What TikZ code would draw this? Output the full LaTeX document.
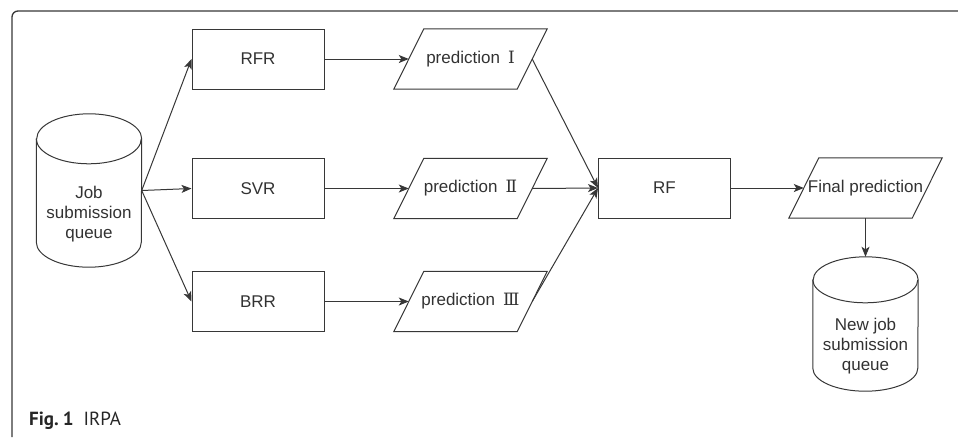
\documentclass[tikz,border=0pt]{standalone}
\usepackage{fontspec}
\setmainfont{Liberation Sans}
\newfontfamily\numfont{DejaVu Serif}
\newfontfamily\capfont{PT Sans}
\usetikzlibrary{arrows.meta,calc}
\definecolor{ln}{RGB}{55,55,55}
\definecolor{tx}{RGB}{50,50,50}
\newcommand{\lblfont}{\fontsize{17}{20}\selectfont}
\tikzset{
  box/.style={draw=ln, line width=1pt, minimum width=132pt, minimum height=60pt, inner sep=0pt, font=\lblfont, text=tx},
  para/.style={minimum width=123pt, minimum height=60pt, inner sep=0pt, font=\lblfont, text=tx},
  cylbody/.style={minimum width=105pt, inner sep=0pt},
  lbl/.style={font=\lblfont, text=tx, align=center, inner sep=0pt},
  arr/.style={-{Stealth[length=10pt,width=8pt,inset=2.5pt]}, draw=ln, line width=1pt},
  outline/.style={draw=ln, line width=1pt}
}
\begin{document}
\begin{tikzpicture}[x=1pt,y=-1pt]
\useasboundingbox (0,0) rectangle (958,437);
% frame
\draw[ln, line width=1.3pt, rounded corners=6pt] (12,437) -- (12,11) -- (958,11);
% boxes
\node[box] (rfr) at (258,59) {RFR};
\node[box] (svr) at (258,188.5) {SVR};
\node[box] (brr) at (258,301.5) {BRR};
\node[box] (rf) at (664.5,188) {RF};
% parallelograms
\node[para] (p1) at (470.5,59) {prediction\hspace{8pt}{\numfont Ⅰ}};
\node[para] (p2) at (470.5,188.5) {prediction\hspace{8pt}{\numfont Ⅱ}};
\node[para] (p3) at (470.5,301.5) {prediction\hspace{8pt}{\numfont Ⅲ}};
\node[para] (fp) at (865.5,188) {Final prediction};
\foreach \n in {p1,p2,p3,fp}
  \draw[outline] ($(\n.north west)+(15,0)$) -- ($(\n.north east)+(15,0)$) -- ($(\n.south east)+(-15,0)$) -- ($(\n.south west)+(-15,0)$) -- cycle;
% cylinders
\node[cylbody, minimum height=153pt] (c1) at (89,190.5) {};
\node[cylbody, minimum height=134pt] (c2) at (865.5,324) {};
\foreach \n/\r in {c1/25,c2/23}{
  \draw[outline] ([yshift=-\r pt]\n.north west) -- ([yshift=\r pt]\n.south west)
     arc[start angle=180,end angle=360,x radius=52.5pt,y radius=\r pt]
     -- ([yshift=-\r pt]\n.north east)
     arc[start angle=0,end angle=180,x radius=52.5pt,y radius=\r pt] -- cycle;
  \draw[outline] ([yshift=-\r pt]\n.north west) arc[start angle=180,end angle=360,x radius=52.5pt,y radius=\r pt];
}
\node[lbl] (c1t) at ($(c1.center)+(0,23.5)$) {Job\\submission\\queue};
\node[lbl] (c2t) at ($(c2.center)+(0,22.5)$) {New job\\submission\\queue};
% connectors
\draw[arr] (c1.east) -- (rfr.west);
\draw[arr] (c1.east) -- (svr.west);
\draw[arr] (c1.east) -- (brr.west);
\draw[arr] (rfr.east) -- (p1.west);
\draw[arr] (svr.east) -- (p2.west);
\draw[arr] (brr.east) -- (p3.west);
\draw[arr] (p1.east) -- (rf.west);
\draw[arr] (p2.east) -- (rf.west);
\draw[arr] (p3.east) -- (rf.west);
\draw[arr] (rf.east) -- (fp.west);
\draw[arr] (fp.south) -- (c2.north);
% caption
\node[anchor=base west, font=\capfont\fontsize{19}{22}\selectfont, text=black!85, inner sep=0pt] (cap) at (29,425) {\textbf{Fig.\kern4pt 1}\hspace{10pt}IRPA};
\end{tikzpicture}
\end{document}
